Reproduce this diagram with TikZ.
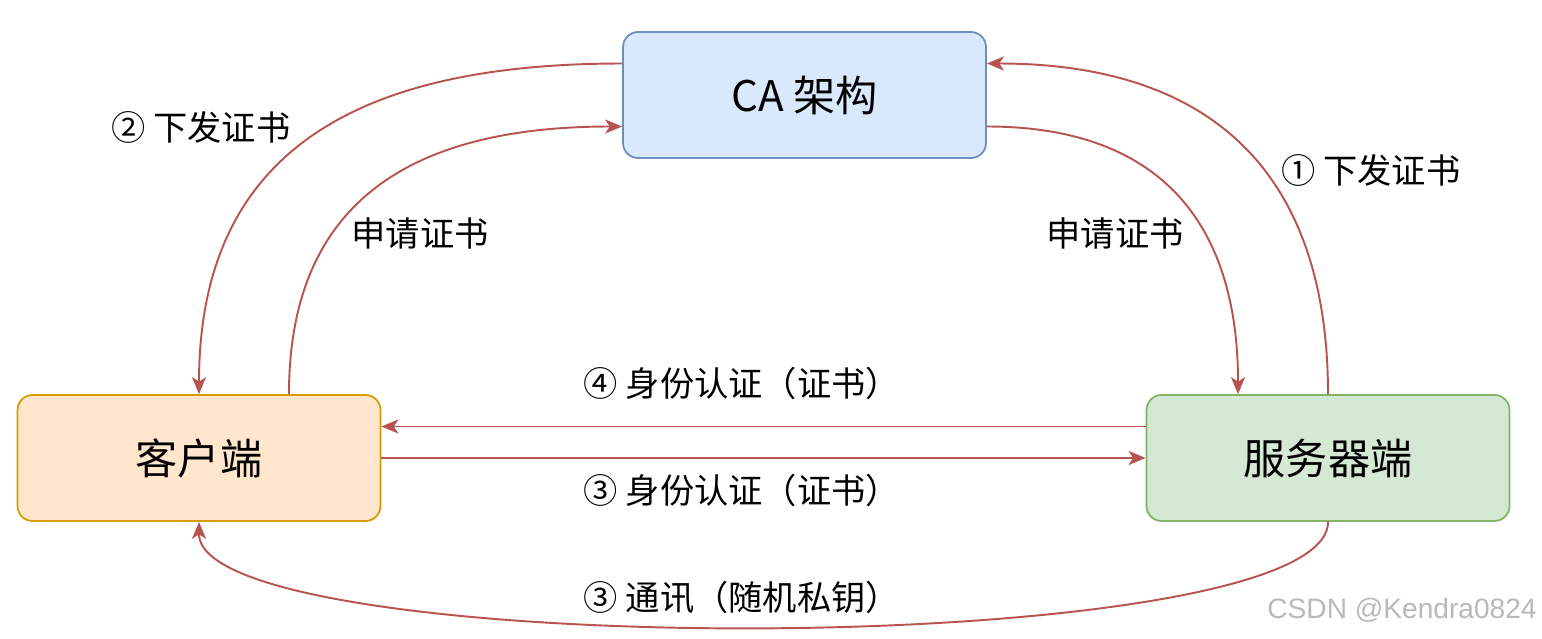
\documentclass[tikz,border=0pt]{standalone}
\usepackage{fontspec}
\setmainfont{Noto Sans CJK SC}
\newfontfamily\markfont{Liberation Sans}
\usetikzlibrary{arrows.meta}
\definecolor{cafill}{HTML}{DAE8FC}
\definecolor{caline}{HTML}{6C8EBF}
\definecolor{clientfill}{HTML}{FFE6CC}
\definecolor{clientline}{HTML}{D79B00}
\definecolor{serverfill}{HTML}{D5E8D4}
\definecolor{serverline}{HTML}{82B366}
\definecolor{linkred}{HTML}{B85450}
\begin{document}
\begin{tikzpicture}[x=0.02cm,y=-0.02cm,
        box/.style={draw,rounded corners=0.3cm,line width=1pt,minimum width=7.26cm,minimum height=2.52cm,font=\fontsize{24}{28}\selectfont},
        link/.style={draw=linkred,line width=1.1pt,-{Stealth[length=0.34cm,width=0.28cm,inset=0.09cm]}},
        lbl/.style={font=\fontsize{19.5}{22}\selectfont}]
                \useasboundingbox (0,0) rectangle (1542,639);
                
                \node[box,fill=cafill,draw=caline] (ca) at (804.5,95) {CA 架构};
                \node[box,fill=clientfill,draw=clientline] (client) at (199,458) {客户端};
                \node[box,fill=serverfill,draw=serverline] (server) at (1328,458) {服务器端};
                
                \draw[link] ([yshift=0.63cm]ca.west) to[out=180,in=90,looseness=1.2] (client.north);
                \draw[link] ([xshift=1.8cm]client.north) to[out=90,in=180,looseness=1.2] ([yshift=-0.63cm]ca.west);
                \draw[link] ([yshift=-0.63cm]ca.east) to[out=0,in=90,looseness=1.2] ([xshift=-1.8cm]server.north);
                \draw[link] (server.north) to[out=90,in=0,looseness=1.2] ([yshift=0.63cm]ca.east);
                
                \draw[link] ([yshift=0.63cm]server.west) -- ([yshift=0.63cm]client.east);
                \draw[link] (client.east) -- (server.west);
                \draw[link] (server.south) .. controls +(0,140) and +(0,140) .. (client.south);
                
                \node[lbl] (issuetwo) at (201,127) {② 下发证书};
                \node[lbl] (askleft) at (420,233) {申请证书};
                \node[lbl] (askright) at (1115,233) {申请证书};
                \node[lbl] (issueone) at (1371,170) {① 下发证书};
                \node[lbl] (authfour) at (742,383) {④ 身份认证（证书）};
                \node[lbl] (auththree) at (742,490) {③ 身份认证（证书）};
                \node[lbl] (talk) at (742,597) {③ 通讯（随机私钥）};
                \node[font=\markfont\fontsize{16}{18}\selectfont,text=gray!55] (mark) at (1402,610) {CSDN @Kendra0824};
            \end{tikzpicture}
\end{document}
